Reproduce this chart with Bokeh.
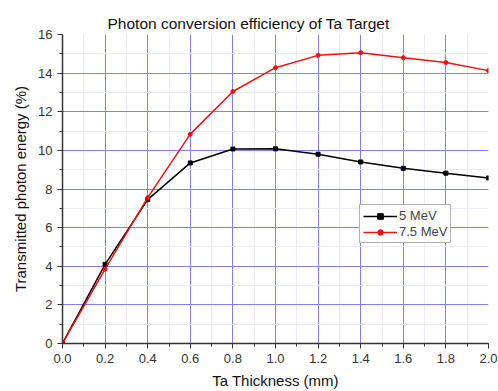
from bokeh.plotting import figure
from bokeh.models import Range1d, Legend, LegendItem, FixedTicker
from bokeh.embed import file_html
from bokeh.resources import INLINE

thickness = [0.0, 0.2, 0.4, 0.6, 0.8, 1.0, 1.2, 1.4, 1.6, 1.8, 2.0]
mev5 = [0.0, 4.1, 7.45, 9.35, 10.07, 10.08, 9.8, 9.4, 9.07, 8.82, 8.57]
mev75 = [0.0, 3.85, 7.55, 10.84, 13.05, 14.28, 14.92, 15.06, 14.8, 14.55, 14.13]
x_ticks = [0.0, 0.2, 0.4, 0.6, 0.8, 1.0, 1.2, 1.4, 1.6, 1.8, 2.0]
y_ticks = [0, 2, 4, 6, 8, 10, 12, 14, 16]
series_names = ["5 MeV", "7.5 MeV"]

FONT = "Liberation Sans"

p = figure(width=498, height=391, output_backend="svg", toolbar_location=None,
           x_range=Range1d(0, 2.0), y_range=Range1d(0, 16),
           min_border_left=62, min_border_right=10, min_border_top=34, min_border_bottom=47)
p.title.text = "Photon conversion efficiency of Ta Target"
p.title.align = "left"
p.title.text_font = FONT
p.title.text_font_size = "15.5px"
p.title.text_font_style = "normal"
p.title.text_color = "#111111"
p.title.offset = 45
p.title.standoff = 6
p.outline_line_color = None

x_minor = [round(0.1 * i, 2) for i in range(21)]
y_minor = list(range(17))
p.xaxis.ticker = FixedTicker(ticks=x_ticks, minor_ticks=x_minor)
p.yaxis.ticker = FixedTicker(ticks=y_ticks, minor_ticks=y_minor)
p.xaxis.major_label_overrides = {t: f"{t:.1f}" for t in x_ticks}

for ax in (p.xaxis[0], p.yaxis[0]):
    ax.axis_line_color = "#333333"
    ax.axis_line_width = 1.5
    ax.major_tick_line_color = "#333333"
    ax.minor_tick_line_color = "#333333"
    ax.major_tick_out = 5
    ax.major_tick_in = 0
    ax.minor_tick_out = 3
    ax.minor_tick_in = 0
    ax.major_label_text_font = FONT
    ax.major_label_text_font_size = "13px"
    ax.major_label_text_color = "#333333"
    ax.axis_label_text_font = FONT
    ax.axis_label_text_font_size = "15px"
    ax.axis_label_text_font_style = "normal"
    ax.axis_label_text_color = "#111111"

p.xaxis.axis_label = "Ta Thickness (mm)"
p.yaxis.axis_label = "Transmitted photon energy (%)"
p.xaxis.axis_label_standoff = 6
p.yaxis.axis_label_standoff = 6

p.xgrid.ticker = FixedTicker(ticks=x_ticks[:-1], minor_ticks=x_minor[:-1])
p.ygrid.ticker = FixedTicker(ticks=y_ticks[:-1], minor_ticks=y_minor[:-1])
p.grid.grid_line_color = "#6d6df0"
p.grid.grid_line_width = 1
p.grid.grid_line_alpha = 0.85
p.grid.minor_grid_line_color = "#ebebf7"
p.grid.minor_grid_line_width = 1

l1 = p.line(thickness, mev5, line_color="black", line_width=1.5)
m1 = p.scatter(thickness, mev5, marker="square", size=4, color="black")
l2 = p.line(thickness, mev75, line_color="#ee1111", line_width=1.5)
m2 = p.scatter(thickness, mev75, marker="circle", size=4, color="#ee1111")

legend = Legend(items=[LegendItem(label=series_names[0], renderers=[l1, m1]),
                       LegendItem(label=series_names[1], renderers=[l2, m2])],
                location=(297, 100))
legend.border_line_color = "#666666"
legend.border_line_width = 1
legend.background_fill_color = "white"
legend.background_fill_alpha = 1
legend.label_text_font = FONT
legend.label_text_font_size = "13px"
legend.label_height = 14
legend.glyph_height = 14
legend.glyph_width = 34
legend.spacing = 1
legend.padding = 3
legend.margin = 0
legend.label_standoff = 2
p.add_layout(legend, "center")

open("out.html", "w").write(file_html(p, INLINE))
